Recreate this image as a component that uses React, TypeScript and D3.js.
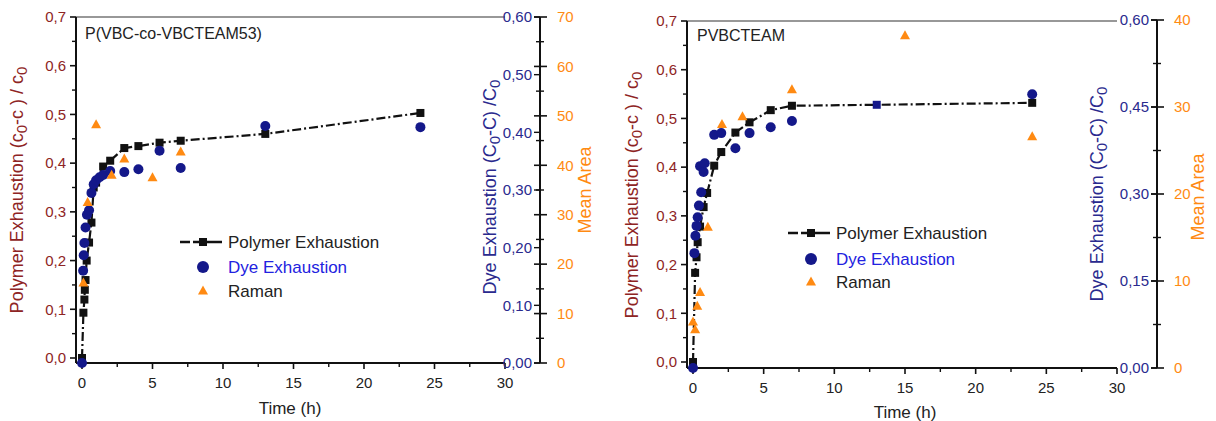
import React from "react";
import * as d3 from "d3";

type Pt = [number, number];

// ---- P(VBC-co-VBCTEAM53): time (h) vs value ----
const copolyPolymer: Pt[] = [
  [0, 0], [0.1, 0.093], [0.17, 0.12], [0.2, 0.14], [0.25, 0.16], [0.33, 0.2],
  [0.5, 0.237], [0.67, 0.278], [0.83, 0.35], [1.0, 0.36], [1.5, 0.393],
  [2.0, 0.405], [3.0, 0.431], [4.0, 0.435], [5.5, 0.442], [7.0, 0.446],
  [13.0, 0.46], [24.0, 0.503],
];
const copolyDye: Pt[] = [
  [0, 0], [0.08, 0.16], [0.12, 0.187], [0.17, 0.208], [0.25, 0.235], [0.35, 0.257],
  [0.5, 0.265], [0.67, 0.295], [0.83, 0.31], [1.0, 0.317], [1.25, 0.322],
  [1.5, 0.326], [2.0, 0.333], [3.0, 0.331], [4.0, 0.336], [5.5, 0.368],
  [7.0, 0.338], [13.0, 0.411], [24.0, 0.409],
];
const copolyRaman: Pt[] = [
  [0.1, 16.2], [0.4, 32.5], [1.0, 48.2], [2.1, 38.0], [3.0, 41.3], [5.0, 37.5], [7.0, 42.7],
];

// ---- PVBCTEAM ----
const homoPolymer: Pt[] = [
  [0, 0], [0.15, 0.183], [0.25, 0.215], [0.33, 0.246], [0.5, 0.278], [0.75, 0.318],
  [1.0, 0.347], [1.5, 0.403], [2.0, 0.431], [3.0, 0.471], [4.0, 0.492],
  [5.5, 0.517], [7.0, 0.526], [13.0, 0.528], [24.0, 0.532],
];
const homoDye: Pt[] = [
  [0, 0], [0.1, 0.198], [0.17, 0.228], [0.25, 0.245], [0.33, 0.26], [0.42, 0.28],
  [0.58, 0.303], [0.5, 0.348], [0.75, 0.338], [0.83, 0.353], [1.5, 0.402],
  [2.0, 0.405], [3.0, 0.379], [4.0, 0.405], [5.5, 0.415], [7.0, 0.426], [24.0, 0.472],
];
const homoRaman: Pt[] = [
  [0.0, 5.3], [0.15, 4.4], [0.3, 7.1], [0.5, 8.7], [1.05, 16.2], [2.05, 28.0],
  [3.5, 28.9], [7.0, 32.0], [15.0, 38.2], [24.0, 26.6],
];
// polymer point at 13 h that is drawn in navy in the PVBCTEAM panel
const homoNavySquareTimes = [13.0];

const timeTicks = [0, 5, 10, 15, 20, 25, 30];
const polymerTicks = [0, 0.1, 0.2, 0.3, 0.4, 0.5, 0.6, 0.7];
const copolyDyeTicks = [0, 0.1, 0.2, 0.3, 0.4, 0.5, 0.6];
const copolyAreaTicks = [0, 10, 20, 30, 40, 50, 60, 70];
const homoDyeTicks = [0, 0.15, 0.3, 0.45, 0.6];
const homoAreaTicks = [0, 10, 20, 30, 40];

const legendLabels = ["Polymer Exhaustion", "Dye Exhaustion", "Raman"];

const FONT = "'Liberation Sans', Arial, Helvetica, sans-serif";
const RED = "#8e2424";
const NAVY = "#2a2a8e";
const MARK_NAVY = "#14188a";
const ORANGE = "#ff8a12";
const LEGEND_BLUE = "#2222e0";

interface Layout {
  title: string;
  titleX: number;
  titleY: number;
  frameLeft: number;
  xRange: [number, number];
  frameTop: number;
  frameBottom: number;
  polyRange: [number, number];
  dyeMax: number;
  dyeRange: [number, number];
  areaMax: number;
  areaRange: [number, number];
  axisX: number;
  dyeTicks: number[];
  dyeDecimals: number;
  areaTicks: number[];
  legendX: number;
  legendY: number[];
  yTitle: [number, number];
  dyeTitle: [number, number];
  areaTitle: [number, number];
  timeTitle: [number, number];
  polymer: Pt[];
  dye: Pt[];
  raman: Pt[];
  navySquares: number[];
}

const fmt = (v: number, d: number) => v.toFixed(d).replace(".", ",");

function triPath(cx: number, cy: number, s: number) {
  const h = s * 0.9;
  return `M${cx},${cy - h * 0.6}L${cx + s / 2},${cy + h * 0.4}L${cx - s / 2},${cy + h * 0.4}Z`;
}

function Panel({ L }: { L: Layout }) {
  const x = d3.scaleLinear().domain([0, 30]).range(L.xRange);
  const yP = d3.scaleLinear().domain([0, 0.7]).range(L.polyRange);
  const yD = d3.scaleLinear().domain([0, L.dyeMax]).range(L.dyeRange);
  const yA = d3.scaleLinear().domain([0, L.areaMax]).range(L.areaRange);
  const line = d3.line<Pt>().x((d) => x(d[0])).y((d) => yP(d[1]));
  const xEnd = x(30);
  const minorX = d3.range(2.5, 30, 5);
  const minorP = d3.range(0.05, 0.7, 0.1);
  const areaStep = L.areaTicks[1] - L.areaTicks[0];
  const minorA = d3.range(areaStep / 2, L.areaMax, areaStep);
  const dash = "9 3 2 3";

  return (
    <g fontFamily={FONT}>
      {/* frame */}
      <line x1={L.frameLeft} x2={xEnd} y1={L.frameTop} y2={L.frameTop} stroke="#333" strokeWidth={1.2} />
      <line x1={L.frameLeft} x2={xEnd} y1={L.frameBottom} y2={L.frameBottom} stroke="#111" strokeWidth={2} />
      <line x1={L.frameLeft} x2={L.frameLeft} y1={L.frameTop} y2={L.frameBottom} stroke="#111" strokeWidth={2} />

      {/* time axis */}
      {timeTicks.map((t) => (
        <g key={"xt" + t}>
          <line x1={x(t)} x2={x(t)} y1={L.frameBottom} y2={L.frameBottom + 6} stroke="#111" strokeWidth={1.6} />
          <text x={x(t)} y={L.frameBottom + 25} fontSize={15} textAnchor="middle" fill="#222">{t}</text>
        </g>
      ))}
      {minorX.map((t) => (
        <line key={"xm" + t} x1={x(t)} x2={x(t)} y1={L.frameBottom} y2={L.frameBottom + 4} stroke="#111" strokeWidth={1.4} />
      ))}
      <text x={L.timeTitle[0]} y={L.timeTitle[1]} fontSize={17} textAnchor="middle" fill="#222">Time (h)</text>

      {/* polymer axis */}
      {polymerTicks.map((v) => (
        <g key={"yp" + v}>
          <line x1={L.frameLeft - 6} x2={L.frameLeft} y1={yP(v)} y2={yP(v)} stroke="#111" strokeWidth={1.6} />
          <text x={L.frameLeft - 10} y={yP(v)} dy="0.35em" fontSize={15} textAnchor="end" fill={RED}>{fmt(v, 1)}</text>
        </g>
      ))}
      {minorP.map((v) => (
        <line key={"pm" + v} x1={L.frameLeft - 4} x2={L.frameLeft} y1={yP(v)} y2={yP(v)} stroke="#111" strokeWidth={1.4} />
      ))}
      <text transform={`translate(${L.yTitle[0]},${L.yTitle[1]}) rotate(-90)`} fontSize={18} textAnchor="middle" dy="0.35em" fill={RED}>
        Polymer Exhaustion (c<tspan dy="4" fontSize={15}>0</tspan><tspan dy="-4">-c ) / c</tspan><tspan dy="4" fontSize={15}>0</tspan>
      </text>

      {/* right axes: dye + mean area */}
      <line x1={L.axisX} x2={L.axisX} y1={L.areaRange[1]} y2={L.areaRange[0]} stroke="#111" strokeWidth={2} />
      {L.areaTicks.map((v) => (
        <g key={"ya" + v}>
          <line x1={L.axisX - 6} x2={L.axisX + 7} y1={yA(v)} y2={yA(v)} stroke="#111" strokeWidth={1.6} />
          <text x={L.axisX + 17} y={yA(v)} dy="0.35em" fontSize={15} fill={ORANGE}>{v}</text>
        </g>
      ))}
      {minorA.map((v) => (
        <line key={"am" + v} x1={L.axisX - 4} x2={L.axisX + 4} y1={yA(v)} y2={yA(v)} stroke="#111" strokeWidth={1.4} />
      ))}
      {L.dyeTicks.map((v) => (
        <g key={"yd" + v}>
          <line x1={L.axisX - 6} x2={L.axisX} y1={yD(v)} y2={yD(v)} stroke="#111" strokeWidth={1.4} />
          <text x={L.axisX - 8} y={yD(v)} dy="0.35em" fontSize={15} textAnchor="end" fill={NAVY}>{fmt(v, 2)}</text>
        </g>
      ))}
      <text transform={`translate(${L.dyeTitle[0]},${L.dyeTitle[1]}) rotate(-90)`} fontSize={18} textAnchor="middle" dy="0.35em" fill={NAVY}>
        Dye Exhaustion (C<tspan dy="4" fontSize={15}>0</tspan><tspan dy="-4">-C) /C</tspan><tspan dy="4" fontSize={15}>0</tspan>
      </text>
      <text transform={`translate(${L.areaTitle[0]},${L.areaTitle[1]}) rotate(-90)`} fontSize={18} textAnchor="middle" dy="0.35em" fill={ORANGE}>
        Mean Area
      </text>

      {/* panel title */}
      <text x={L.titleX} y={L.titleY} fontSize={16} dy="0.35em" fill="#222">{L.title}</text>

      {/* polymer exhaustion series */}
      <path d={line(L.polymer) || ""} fill="none" stroke="#111" strokeWidth={2.2} strokeDasharray={dash} />
      {L.polymer.map((d, i) => (
        <rect key={"sq" + i} x={x(d[0]) - 4} y={yP(d[1]) - 4} width={8} height={8}
          fill={L.navySquares.includes(d[0]) ? MARK_NAVY : "#111"} />
      ))}
      {/* dye exhaustion */}
      {L.dye.map((d, i) => (
        <circle key={"c" + i} cx={x(d[0])} cy={yD(d[1])} r={5} fill={MARK_NAVY} />
      ))}
      {/* raman */}
      {L.raman.map((d, i) => (
        <path key={"t" + i} d={triPath(x(d[0]), yA(d[1]), 10)} fill={ORANGE} />
      ))}

      {/* legend */}
      <line x1={L.legendX} x2={L.legendX + 42} y1={L.legendY[0]} y2={L.legendY[0]} stroke="#111" strokeWidth={2.4} strokeDasharray="10 3 30" />
      <rect x={L.legendX + 19} y={L.legendY[0] - 4} width={8} height={8} fill="#111" />
      <text x={L.legendX + 48} y={L.legendY[0]} dy="0.35em" fontSize={17} fill="#222">{legendLabels[0]}</text>
      <circle cx={L.legendX + 23} cy={L.legendY[1]} r={6} fill={MARK_NAVY} />
      <text x={L.legendX + 48} y={L.legendY[1]} dy="0.35em" fontSize={17} fill={LEGEND_BLUE}>{legendLabels[1]}</text>
      <path d={triPath(L.legendX + 23, L.legendY[2], 10)} fill={ORANGE} />
      <text x={L.legendX + 48} y={L.legendY[2]} dy="0.35em" fontSize={17} fill="#222">{legendLabels[2]}</text>
    </g>
  );
}

const copolyLayout: Layout = {
  title: "P(VBC-co-VBCTEAM53)",
  titleX: 85, titleY: 33,
  frameLeft: 76, xRange: [82, 505], frameTop: 17, frameBottom: 363,
  polyRange: [358, 17],
  dyeMax: 0.6, dyeRange: [363, 17],
  areaMax: 70, areaRange: [363, 17],
  axisX: 540,
  dyeTicks: copolyDyeTicks, dyeDecimals: 2, areaTicks: copolyAreaTicks,
  legendX: 180, legendY: [242, 267, 291],
  yTitle: [17, 190], dyeTitle: [490, 187], areaTitle: [585, 190], timeTitle: [290, 414],
  polymer: copolyPolymer, dye: copolyDye, raman: copolyRaman, navySquares: [],
};

const homoLayout: Layout = {
  title: "PVBCTEAM",
  titleX: 697, titleY: 35,
  frameLeft: 687, xRange: [693, 1117], frameTop: 21, frameBottom: 368,
  polyRange: [362, 21],
  dyeMax: 0.6, dyeRange: [368, 20],
  areaMax: 40, areaRange: [368, 20],
  axisX: 1157,
  dyeTicks: homoDyeTicks, dyeDecimals: 2, areaTicks: homoAreaTicks,
  legendX: 788, legendY: [233, 259, 282],
  yTitle: [632, 195], dyeTitle: [1097, 194], areaTitle: [1198, 197], timeTitle: [905, 418],
  polymer: homoPolymer, dye: homoDye, raman: homoRaman, navySquares: homoNavySquareTimes,
};

export default function App() {
  return (
    <svg width={1216} height={421} viewBox="0 0 1216 421"
      style={{ position: "absolute", left: 0, top: 0, background: "#fff", display: "block" }}>
      <rect width={1216} height={421} fill="#fff" />
      <Panel L={copolyLayout} />
      <Panel L={homoLayout} />
    </svg>
  );
}
